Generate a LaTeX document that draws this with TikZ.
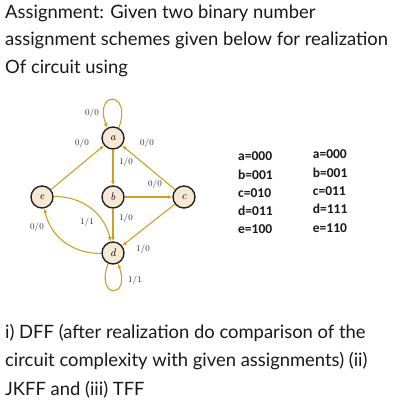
\documentclass[tikz,border=0pt]{standalone}
\usepackage{fontspec}
\setmainfont{Lato}
\newfontfamily\tabfont{Carlito}
\newfontfamily\lmfont{Latin Modern Roman}
\usetikzlibrary{arrows.meta}
\definecolor{edgecol}{RGB}{205,160,40}
\definecolor{nodefill}{RGB}{245,233,214}
\definecolor{nodeline}{RGB}{35,35,35}
\definecolor{lblcol}{RGB}{40,40,40}
\definecolor{txtcol}{RGB}{25,25,25}
\begin{document}
\begin{tikzpicture}[x=1pt,y=1pt,
  state/.style={circle,draw=nodeline,line width=1.4pt,fill=nodefill,minimum size=22pt,inner sep=0pt,font=\lmfont\itshape\fontsize{11}{11}\selectfont},
  tr/.style={draw=edgecol,line width=1.1pt,-{Latex[length=4.5pt,width=4pt]}},
  lbl/.style={text=lblcol,font=\lmfont\fontsize{8.8}{8.8}\selectfont,inner sep=0pt},
  para/.style={anchor=base west,inner sep=0pt,text=txtcol,font=\fontsize{18.4}{18.4}\selectfont},
  tab/.style={anchor=base west,inner sep=0pt,text=txtcol,font=\tabfont\bfseries\fontsize{13.5}{13.5}\selectfont}]
\useasboundingbox (0,0) rectangle (400,404);
\fill[white] (0,0) rectangle (400,404);
% question text
\node[para] (t1) at (5,385) {Assignment: Given two binary number};
\node[para] (t2) at (5,358) {assignment schemes given below for realization};
\node[para] (t3) at (5,330) {Of circuit using};
\node[para] (t4) at (5,65) {i) DFF (after realization do comparison of the};
\node[para] (t5) at (5,37) {circuit complexity with given assignments) (ii)};
\node[para] (t6) at (5,9) {JKFF and (iii) TFF};
% states
\node[state] (a) at (113,266) {a};
\node[state] (b) at (113,207) {b};
\node[state] (c) at (184,207) {c};
\node[state] (e) at (42,207) {e};
\node[state] (d) at (113,151) {d};
% transitions
\draw[tr] (a.60) .. controls +(70:40) and +(110:40) .. (a.120) node[lbl] at (92,291) {0/0};
\draw[tr] (e) -- (a) node[lbl] at (82,261) {0/0};
\draw[tr] (c) -- (a) node[lbl] at (147,261) {0/0};
\draw[tr] (a) -- (b) node[lbl] at (126,242) {1/0};
\draw[tr] (b) -- (c) node[lbl] at (155,220) {0/0};
\draw[tr] (b) -- (d) node[lbl] at (126,186) {1/0};
\draw[tr] (c) -- (d) node[lbl] at (143,155) {1/0};
\draw[tr] (e) to[bend left=40] (d);
\node[lbl] (l1) at (87,182) {1/1};
\draw[tr] (d) to[bend left=40] (e);
\node[lbl] (l2) at (37,177) {0/0};
\draw[tr] (d.245) .. controls +(250:38) and +(290:38) .. (d.295) node[lbl] at (135,124) {1/1};
% assignments
\node[tab] (p1) at (238,243.3) {a=000};
\node[tab] (p2) at (238,224.7) {b=001};
\node[tab] (p3) at (238,206.7) {c=010};
\node[tab] (p4) at (238,188.3) {d=011};
\node[tab] (p5) at (238,170) {e=100};
\node[tab] (q1) at (312.7,245) {a=000};
\node[tab] (q2) at (312.7,226.4) {b=001};
\node[tab] (q3) at (312.7,208.4) {c=011};
\node[tab] (q4) at (312.7,190) {d=111};
\node[tab] (q5) at (312.7,171.7) {e=110};
\end{tikzpicture}
\end{document}
